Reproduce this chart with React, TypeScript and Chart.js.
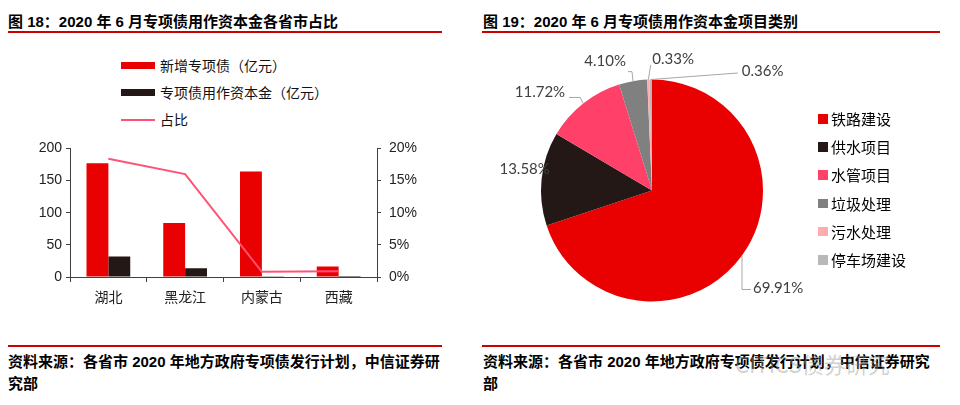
import React, { useEffect, useRef } from "react";
import { Chart, registerables } from "chart.js";

Chart.register(...registerables);

// ---- Chart 18 data ----
const provinces = ["湖北", "黑龙江", "内蒙古", "西藏"];
const newBonds = [177, 84, 164, 16.5];
const capitalUse = [32, 13.5, 1.3, 0.15];
const ratio = [0.184, 0.16, 0.008, 0.009];
const barLegend = ["新增专项债（亿元）", "专项债用作资本金（亿元）", "占比"];

// ---- Chart 19 data ----
const categories = ["铁路建设", "供水项目", "水管项目", "垃圾处理", "污水处理", "停车场建设"];
const shares = [69.91, 13.58, 11.72, 4.1, 0.33, 0.36];
const shareLabels = ["69.91%", "13.58%", "11.72%", "4.10%", "0.33%", "0.36%"];

const RED = "#E90000";
const DARK = "#231815";
const PINK_LINE = "#FF5376";
const pieColors = [RED, DARK, "#FF4169", "#808080", "#FFACB0", "#B8B8B8"];

const LATIN_CJK = "'Liberation Sans', 'Noto Sans CJK SC', sans-serif";

// label leader layout (offsets from each slice's outer edge at mid-angle)
const labelLayout = [
  { pts: [[0, 34], [9, 34]], text: [11, 33], align: "left" },
  { pts: [], text: [-17, -10], align: "center" },
  { pts: [[-3, -6], [-14, -6]], text: [-18, -11], align: "right" },
  { pts: [[-1, -9.5], [-5, -9.5]], text: [-7, -19.5], align: "right" },
  { pts: [[2.4, -14.6]], text: [4, -20.5], align: "left" },
  { pts: [[87, -6.5]], text: [91, -8], align: "left" },
];

const pieLabelPlugin = {
  id: "pieLabels",
  afterDatasetsDraw(chart: any) {
    const ctx = chart.ctx;
    const meta = chart.getDatasetMeta(0);
    ctx.save();
    meta.data.forEach((arc: any, i: number) => {
      const mid = (arc.startAngle + arc.endAngle) / 2;
      const ex = arc.x + Math.cos(mid) * arc.outerRadius;
      const ey = arc.y + Math.sin(mid) * arc.outerRadius;
      const lay = labelLayout[i];
      if (lay.pts.length) {
        ctx.beginPath();
        ctx.strokeStyle = "#A6A6A6";
        ctx.lineWidth = 1;
        ctx.moveTo(ex, ey);
        lay.pts.forEach((p: number[]) => ctx.lineTo(ex + p[0], ey + p[1]));
        ctx.stroke();
      }
      ctx.fillStyle = "#404040";
      ctx.font = "15px Lato, 'Liberation Sans', sans-serif";
      ctx.textAlign = lay.align;
      ctx.textBaseline = "middle";
      ctx.fillText(shareLabels[i], ex + lay.text[0], ey + lay.text[1]);
    });
    ctx.restore();
  },
};

function BarChart() {
  const ref = useRef<HTMLCanvasElement>(null);
  useEffect(() => {
    const axisColor = "#404040";
    const chart = new Chart(ref.current!, {
      type: "bar",
      data: {
        labels: provinces,
        datasets: [
          {
            type: "line",
            label: barLegend[2],
            data: ratio,
            yAxisID: "y1",
            borderColor: PINK_LINE,
            borderWidth: 2,
            pointRadius: 0,
            tension: 0,
            order: 0,
          } as any,
          {
            label: barLegend[0],
            data: newBonds,
            backgroundColor: RED,
            yAxisID: "y",
            categoryPercentage: 0.57,
            barPercentage: 1,
            order: 1,
          },
          {
            label: barLegend[1],
            data: capitalUse,
            backgroundColor: DARK,
            yAxisID: "y",
            categoryPercentage: 0.57,
            barPercentage: 1,
            order: 1,
          },
        ],
      },
      options: {
        responsive: false,
        animation: false,
        devicePixelRatio: 1,
        layout: { padding: { top: 3, left: 0, right: 0, bottom: 0 } },
        plugins: { legend: { display: false }, tooltip: { enabled: false } },
        scales: {
          x: {
            offset: true,
            grid: { offset: true, drawOnChartArea: false, drawTicks: true, tickLength: 5, color: axisColor },
            border: { color: axisColor, width: 1 },
            ticks: { color: "#222", padding: 8, font: { family: LATIN_CJK, size: 14 } },
            afterFit: (s: any) => { s.height = 37; },
          },
          y: {
            position: "left",
            min: 0,
            max: 200,
            ticks: { stepSize: 50, color: "#222", padding: 4, font: { family: LATIN_CJK, size: 14 } },
            grid: { drawOnChartArea: false, drawTicks: true, tickLength: 4, color: axisColor },
            border: { color: axisColor, width: 1 },
            afterFit: (s: any) => { s.width = 70; },
          },
          y1: {
            position: "right",
            min: 0,
            max: 0.2,
            ticks: {
              stepSize: 0.05,
              color: "#222",
              padding: 8,
              font: { family: LATIN_CJK, size: 14 },
              callback: (v: any) => Math.round(Number(v) * 100) + "%",
            },
            grid: { drawOnChartArea: false, drawTicks: true, tickLength: 4, color: axisColor },
            border: { color: axisColor, width: 1 },
            afterFit: (s: any) => { s.width = 63; },
          },
        },
      },
    });
    return () => chart.destroy();
  }, []);
  return <canvas ref={ref} width={440} height={182} style={{ position: "absolute", left: 0, top: 132, width: 440, height: 182 }} />;
}

function PieChart() {
  const ref = useRef<HTMLCanvasElement>(null);
  useEffect(() => {
    const chart = new Chart(ref.current!, {
      type: "pie",
      data: {
        labels: categories,
        datasets: [{ data: shares, backgroundColor: pieColors, borderWidth: 0 }],
      },
      options: {
        responsive: false,
        animation: false,
        devicePixelRatio: 1,
        layout: { padding: { left: 59, right: 177, top: 39.5, bottom: 8.5 } },
        plugins: { legend: { display: false }, tooltip: { enabled: false } },
      },
      plugins: [pieLabelPlugin],
    });
    return () => chart.destroy();
  }, []);
  return <canvas ref={ref} width={458} height={270} style={{ position: "absolute", left: 482, top: 40, width: 458, height: 270 }} />;
}

const titleStyle: React.CSSProperties = {
  position: "absolute",
  fontFamily: LATIN_CJK,
  fontWeight: "bold",
  fontSize: 15,
  color: "#000",
  whiteSpace: "nowrap",
  lineHeight: "15px",
};

const rule = (left: number, top: number, width: number) => (
  <div style={{ position: "absolute", left, top, width, height: 2, background: "#CC0000" }} />
);

export default function App() {
  const legendText: React.CSSProperties = {
    position: "absolute",
    fontFamily: "'Noto Sans CJK SC', sans-serif",
    fontSize: 14,
    lineHeight: "14px",
    color: "#111",
    whiteSpace: "nowrap",
  };
  return (
    <div style={{ position: "fixed", left: 0, top: 0, width: 960, height: 405, background: "#fff", overflow: "hidden" }}>
      {/* Left panel */}
      <div style={{ ...titleStyle, left: 8, top: 14 }}>图 18：2020 年 6 月专项债用作资本金各省市占比</div>
      {rule(8, 31, 434)}
      {/* bar legend */}
      <div style={{ position: "absolute", left: 121, top: 61.5, width: 34, height: 7, background: RED }} />
      <div style={{ ...legendText, left: 160, top: 58 }}>{barLegend[0]}</div>
      <div style={{ position: "absolute", left: 121, top: 88.5, width: 34, height: 7, background: DARK }} />
      <div style={{ ...legendText, left: 160, top: 85 }}>{barLegend[1]}</div>
      <div style={{ position: "absolute", left: 121, top: 118.5, width: 34, height: 2, background: PINK_LINE }} />
      <div style={{ ...legendText, left: 160, top: 112 }}>{barLegend[2]}</div>
      <BarChart />
      {rule(8, 345, 434)}
      <div style={{ ...titleStyle, left: 8, top: 354 }}>资料来源：各省市 2020 年地方政府专项债发行计划，中信证券研</div>
      <div style={{ ...titleStyle, left: 8, top: 376 }}>究部</div>

      {/* Right panel */}
      <div style={{ ...titleStyle, left: 483, top: 14 }}>图 19：2020 年 6 月专项债用作资本金项目类别</div>
      {rule(482, 31, 458)}
      <PieChart />
      {categories.map((c, i) => (
        <React.Fragment key={c}>
          <div style={{ position: "absolute", left: 818, top: 114 + i * 28.2, width: 9.5, height: 9.5, background: pieColors[i] }} />
          <div style={{ position: "absolute", left: 831, top: 110 + i * 28.2, fontFamily: "'Noto Sans CJK SC', sans-serif", fontSize: 15, lineHeight: "18px", color: "#000", whiteSpace: "nowrap" }}>{c}</div>
        </React.Fragment>
      ))}
      {rule(482, 345, 458)}
      <div style={{ ...titleStyle, left: 483, top: 354 }}>资料来源：各省市 2020 年地方政府专项债发行计划，中信证券研究</div>
      <div style={{ ...titleStyle, left: 483, top: 376 }}>部</div>
      <div style={{ position: "absolute", left: 735, top: 350, fontFamily: "'Noto Sans CJK SC', sans-serif", fontSize: 22, lineHeight: "26px", color: "rgba(150,150,150,0.45)", whiteSpace: "nowrap" }}>CITICS债券研究</div>
    </div>
  );
}
